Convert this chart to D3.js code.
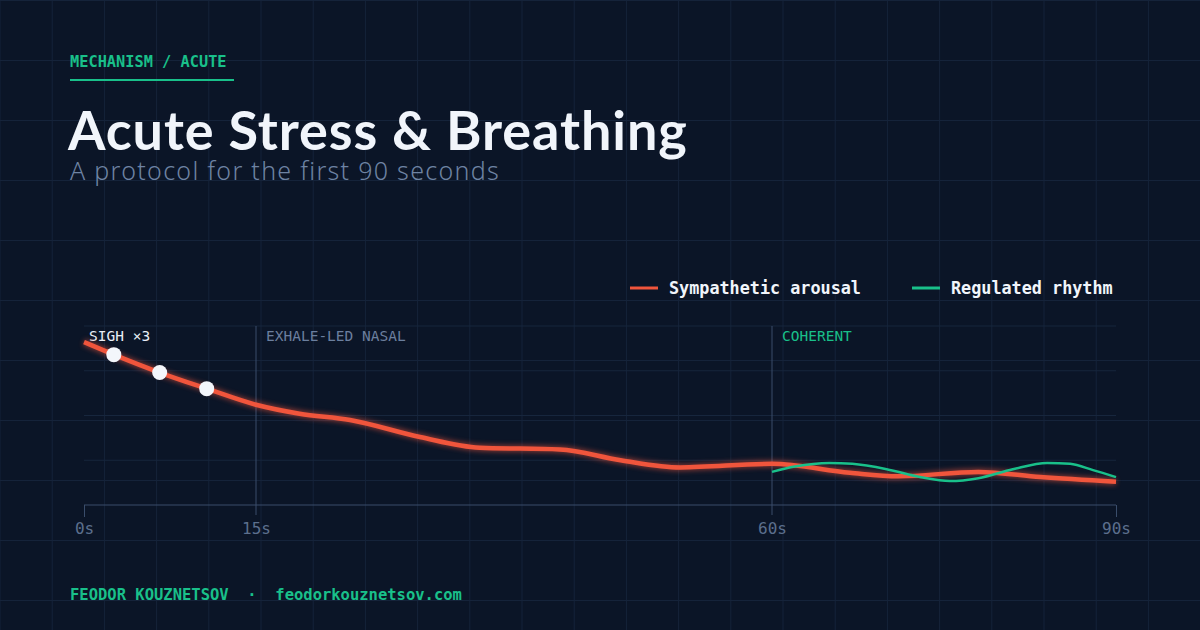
<!DOCTYPE html>
<html><head><meta charset="utf-8">
<script src="https://cdn.jsdelivr.net/npm/d3@7"></script>
<style>body{margin:0;background:#0b1527;}svg{display:block}</style>
</head><body><svg id="c" width="1200" height="630"></svg>
<script>
const xTicks=[0,15,60,90];
const tickLabels=["0s","15s","60s","90s"];
const sympT=[0,2.6,6.6,10.7,15,18.8,23.2,29.3,34.5,41.5,46.8,52,60,66.8,71,78,83.4,90];
const sympV=[91,84,74,65,56,51,47.5,38,32,31,25,21,23,18,16,18.5,15.6,13];
const regT=[60,62,65,67,70,73,75.5,78,81,84,86,88,90];
const regV=[18.5,21.5,23.5,23,20,15.5,13.4,15,20,23.5,23,19.5,15.6];
const sighT=[2.6,6.6,10.7];
const sighV=[84,74,65];
const phases=[{t:15,label:"EXHALE-LED NASAL",color:"#6b7f9e"},{t:60,label:"COHERENT",color:"#19c08a"}];
const yGrid=[25,50,75,100];

const svg=d3.select("#c");
svg.append("rect").attr("width",1200).attr("height",630).attr("fill","#0b1527");
const bg=svg.append("g").attr("stroke","#15233a").attr("stroke-width",1);
for(let i=0;i<=23;i++){const x=i*52.2;bg.append("line").attr("x1",x).attr("x2",x).attr("y1",0).attr("y2",630);}
for(let j=0;j<=10;j++){const y=j*60+0.5;bg.append("line").attr("x1",0).attr("x2",1200).attr("y1",y).attr("y2",y);}

const mono="'DejaVu Sans Mono','Liberation Mono',monospace";
svg.append("text").attr("x",70).attr("y",67).text("MECHANISM / ACUTE").attr("fill","#19c08a").attr("font-family",mono).attr("font-weight","bold").attr("font-size",15.3);
svg.append("rect").attr("x",70).attr("y",79).attr("width",164).attr("height",2).attr("fill","#19c08a");
svg.append("text").attr("x",68).attr("y",150).text("Acute Stress & Breathing").attr("fill","#f1f5fb").attr("font-family","Lato,'Noto Sans',sans-serif").attr("font-weight","bold").attr("font-size",54).attr("letter-spacing",0.9);
svg.append("text").attr("x",70).attr("y",180).text("A protocol for the first 90 seconds").attr("fill","#6e83a3").attr("font-family","'Noto Sans',sans-serif").attr("font-weight",300).attr("font-size",25).attr("letter-spacing",1.3);

const x=d3.scaleLinear().domain([0,90]).range([84,1116]);
const y=d3.scaleLinear().domain([0,100]).range([505,326]);

const g=svg.append("g");
yGrid.forEach(v=>g.append("line").attr("x1",84).attr("x2",1116).attr("y1",y(v)).attr("y2",y(v)).attr("stroke","#17263d"));
const ax=g.append("g").attr("transform","translate(0,505)").call(d3.axisBottom(x).tickValues(xTicks).tickFormat((d,i)=>tickLabels[i]).tickSize(10).tickSizeOuter(0));
ax.select(".domain").attr("stroke","#3a4d6b").attr("d","M84,0H1116");
ax.selectAll(".tick line").attr("stroke","#3a4d6b").attr("y1",0).attr("y2",d=>d===0||d===90?12:0);
ax.selectAll(".tick text").attr("fill","#5c6f8d").attr("font-family",mono).attr("font-size",16).attr("dy","1.1em").attr("y",11);

phases.forEach(p=>{
  g.append("line").attr("x1",x(p.t)).attr("x2",x(p.t)).attr("y1",326).attr("y2",515).attr("stroke","#3a4d6b");
  g.append("text").attr("x",x(p.t)+10).attr("y",341).text(p.label).attr("fill",p.color).attr("font-family",mono).attr("font-size",14.5);
});
g.append("text").attr("x",89).attr("y",341).text("SIGH ×3").attr("fill","#e8eef7").attr("font-family",mono).attr("font-size",14.5);

const defs=svg.append("defs");
defs.append("filter").attr("id","glow").attr("x","-10%").attr("y","-50%").attr("width","120%").attr("height","200%")
 .append("feGaussianBlur").attr("stdDeviation",2.5);
const line=d3.line().x(d=>x(d[0])).y(d=>y(d[1])).curve(d3.curveMonotoneX);
const sd=sympT.map((t,i)=>[t,sympV[i]]);
g.append("path").attr("d",line(sd)).attr("fill","none").attr("stroke","#f0553c").attr("stroke-width",7).attr("opacity",0.5).attr("filter","url(#glow)");
g.append("path").attr("d",line(sd)).attr("fill","none").attr("stroke","#f0553c").attr("stroke-width",4.5);
g.append("path").attr("d",line(regT.map((t,i)=>[t,regV[i]]))).attr("fill","none").attr("stroke","#19c08a").attr("stroke-width",2.5);
sighT.forEach((t,i)=>g.append("circle").attr("cx",x(t)).attr("cy",y(sighV[i])).attr("r",7.5).attr("fill","#f3f6fb"));

const leg=[{l:"Sympathetic arousal",c:"#f0553c",x:630},{l:"Regulated rhythm",c:"#19c08a",x:912}];
leg.forEach(d=>{
  svg.append("line").attr("x1",d.x).attr("x2",d.x+28).attr("y1",288).attr("y2",288).attr("stroke",d.c).attr("stroke-width",3);
  svg.append("text").attr("x",d.x+39).attr("y",294).text(d.l).attr("fill","#f1f5fb").attr("font-family",mono).attr("font-weight","bold").attr("font-size",16.8);
});
svg.append("text").attr("x",70).attr("y",600).attr("fill","#19c08a").attr("font-family",mono).attr("font-weight","bold").attr("font-size",15.5)
 .text("FEODOR KOUZNETSOV  ·  feodorkouznetsov.com").attr("xml:space","preserve").style("white-space","pre");
</script></body></html>
